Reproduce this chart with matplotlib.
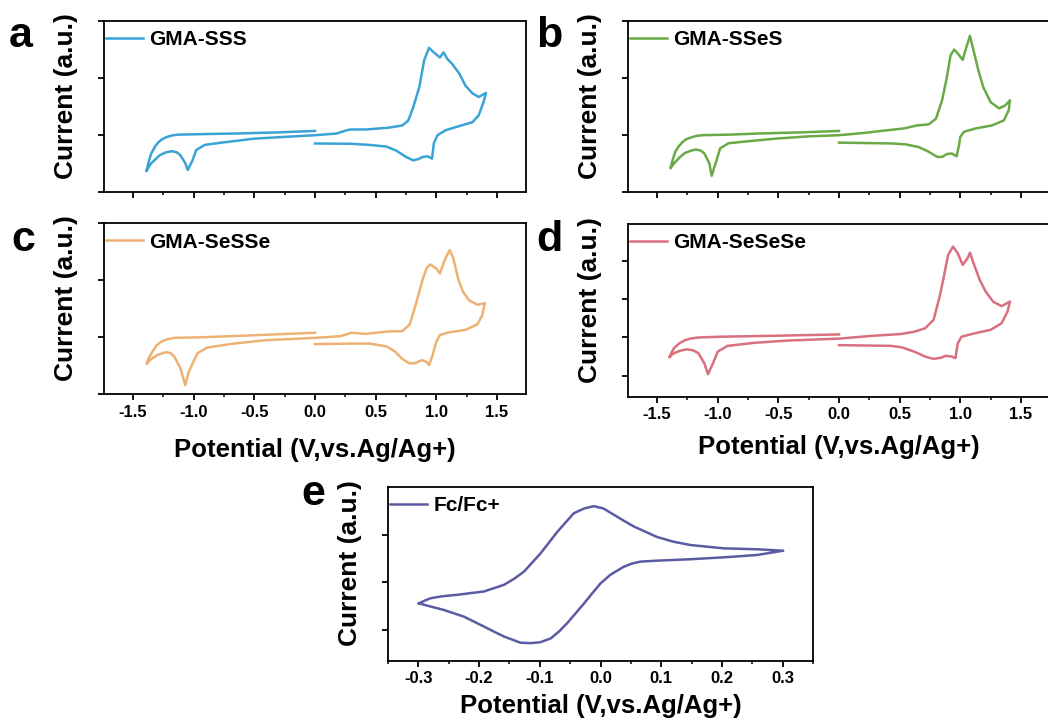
import matplotlib
matplotlib.use("Agg")
import matplotlib.pyplot as plt
from matplotlib.ticker import MultipleLocator, FixedLocator, NullFormatter

plt.rcParams['font.family'] = ['Liberation Sans', 'DejaVu Sans']
plt.rcParams['font.weight'] = 'bold'
plt.rcParams['axes.unicode_minus'] = False

# ---------------- data ----------------
# Panel a: GMA-SSS
a_x = [0.0, -0.30, -0.64, -0.90, -1.13, -1.18, -1.22, -1.26, -1.29, -1.32, -1.35, -1.37, -1.39,
       -1.37, -1.35, -1.31, -1.28, -1.23, -1.18, -1.14, -1.11, -1.07, -1.05, -1.01, -0.98,
       -0.91, -0.77, -0.50, -0.25, 0.0,
       0.18, 0.25, 0.29, 0.42, 0.60, 0.72, 0.77, 0.81, 0.86, 0.90, 0.94, 0.98, 1.03, 1.06, 1.09,
       1.13, 1.19, 1.24, 1.30, 1.35, 1.41,
       1.39, 1.35, 1.30, 1.19, 1.08, 1.01, 0.98, 0.965, 0.93, 0.89, 0.85, 0.81, 0.75, 0.67,
       0.59, 0.45, 0.29, 0.0]
a_y = [1.075, 1.05, 1.03, 1.02, 1.01, 0.995, 0.97, 0.93, 0.88, 0.80, 0.68, 0.55, 0.37,
       0.45, 0.51, 0.59, 0.65, 0.70, 0.72, 0.70, 0.65, 0.51, 0.39, 0.56, 0.74,
       0.83, 0.87, 0.94, 0.97, 1.0,
       1.03, 1.08, 1.10, 1.10, 1.13, 1.17, 1.26, 1.49, 1.84, 2.31, 2.53, 2.45, 2.36, 2.45, 2.34,
       2.25, 2.08, 1.87, 1.73, 1.67, 1.74,
       1.58, 1.35, 1.23, 1.16, 1.09, 1.00, 0.86, 0.59, 0.63, 0.62, 0.58, 0.56, 0.62, 0.73,
       0.80, 0.83, 0.85, 0.855]

# Panel b: GMA-SSeS
b_x = [0.0, -0.30, -0.66, -0.90, -1.13, -1.18, -1.22, -1.26, -1.29, -1.32, -1.35, -1.37, -1.39,
       -1.37, -1.35, -1.31, -1.27, -1.22, -1.18, -1.14, -1.11, -1.07, -1.05, -1.01, -0.98,
       -0.91, -0.72, -0.52, -0.25, 0.0,
       0.21, 0.35, 0.54, 0.64, 0.74, 0.80, 0.85, 0.89, 0.92, 0.95, 0.98, 1.02, 1.05, 1.08, 1.11,
       1.15, 1.19, 1.25, 1.32, 1.37, 1.41,
       1.40, 1.36, 1.26, 1.13, 1.03, 1.00, 0.99, 0.97, 0.93, 0.89, 0.85, 0.81, 0.74, 0.66,
       0.55, 0.44, 0.0]
b_y = [1.075, 1.05, 1.03, 1.01, 1.0, 0.985, 0.96, 0.93, 0.88, 0.81, 0.71, 0.58, 0.42,
       0.48, 0.53, 0.62, 0.69, 0.73, 0.75, 0.73, 0.68, 0.51, 0.29, 0.56, 0.77,
       0.86, 0.90, 0.94, 0.98, 1.0,
       1.04, 1.075, 1.12, 1.17, 1.19, 1.29, 1.61, 2.02, 2.40, 2.50, 2.43, 2.32, 2.54, 2.74, 2.48,
       2.13, 1.84, 1.58, 1.47, 1.52, 1.61,
       1.44, 1.26, 1.17, 1.12, 1.06, 0.97, 0.83, 0.63, 0.68, 0.67, 0.62, 0.62, 0.71, 0.79,
       0.84, 0.855, 0.87]

# Panel c: GMA-SeSSe
c_x = [0.0, -0.45, -0.94, -1.16, -1.22, -1.27, -1.31, -1.34, -1.37, -1.39,
       -1.35, -1.30, -1.23, -1.19, -1.16, -1.11, -1.07, -1.04, -0.97, -0.89, -0.67, -0.40, 0.0,
       0.21, 0.26, 0.30, 0.42, 0.59, 0.72, 0.78, 0.83, 0.89, 0.92, 0.95, 1.00, 1.03, 1.07, 1.11,
       1.14, 1.18, 1.22, 1.27, 1.34, 1.40,
       1.38, 1.34, 1.24, 1.11, 1.03, 1.00, 0.97, 0.94, 0.92, 0.88, 0.83, 0.78, 0.72, 0.66,
       0.59, 0.45, 0.29, 0.0]
c_y = [1.08, 1.04, 1.0, 0.99, 0.965, 0.92, 0.85, 0.75, 0.64, 0.53,
       0.62, 0.69, 0.74, 0.72, 0.66, 0.46, 0.16, 0.40, 0.72, 0.82, 0.89, 0.95, 0.99,
       1.02, 1.05, 1.08, 1.06, 1.10, 1.11, 1.22, 1.57, 2.03, 2.21, 2.28, 2.21, 2.12, 2.36, 2.53,
       2.39, 2.03, 1.80, 1.65, 1.57, 1.60,
       1.39, 1.23, 1.13, 1.09, 1.04, 0.92, 0.69, 0.51, 0.57, 0.60, 0.55, 0.54, 0.62, 0.75,
       0.84, 0.89, 0.89, 0.88]

# Panel d: GMA-SeSeSe
d_x = [0.0, -0.45, -0.97, -1.16, -1.22, -1.27, -1.32, -1.36, -1.38, -1.40,
       -1.37, -1.33, -1.29, -1.25, -1.20, -1.16, -1.11, -1.08, -1.04, -1.00, -0.92, -0.70,
       -0.42, 0.0,
       0.26, 0.51, 0.62, 0.71, 0.78, 0.83, 0.87, 0.90, 0.94, 0.98, 1.02, 1.06, 1.08, 1.11,
       1.16, 1.21, 1.27, 1.34, 1.41,
       1.39, 1.34, 1.25, 1.12, 1.01, 0.98, 0.96, 0.93, 0.88, 0.84, 0.78, 0.71, 0.62,
       0.52, 0.43, 0.0]
d_y = [2.08, 2.05, 2.02, 2.0, 1.975, 1.93, 1.84, 1.72, 1.61, 1.48,
       1.57, 1.63, 1.67, 1.69, 1.66, 1.59, 1.32, 1.04, 1.32, 1.63, 1.78, 1.86,
       1.92, 1.97,
       2.04, 2.09, 2.15, 2.24, 2.46, 3.07, 3.68, 4.16, 4.38, 4.20, 3.90, 4.07, 4.22, 3.94,
       3.51, 3.20, 2.94, 2.82, 2.94,
       2.68, 2.37, 2.20, 2.11, 2.02, 1.85, 1.46, 1.50, 1.52, 1.47, 1.44, 1.50, 1.63,
       1.74, 1.78, 1.80]

# Panel e: Fc/Fc+
e_x = [-0.299, -0.289, -0.279, -0.260, -0.236, -0.192, -0.159, -0.142, -0.126, -0.099, -0.071,
       -0.044, -0.027, -0.011, 0.005, 0.027, 0.040, 0.055, 0.093, 0.120, 0.148, 0.203, 0.258,
       0.301,
       0.258, 0.203, 0.148, 0.093, 0.066, 0.052, 0.038, 0.016, 0.0, -0.013, -0.027, -0.055,
       -0.068, -0.082, -0.099, -0.115, -0.132, -0.159, -0.175, -0.192, -0.225, -0.258,
       -0.285, -0.299]
e_y = [1.56, 1.62, 1.67, 1.71, 1.74, 1.81, 1.95, 2.08, 2.23, 2.61, 3.07,
       3.46, 3.56, 3.61, 3.56, 3.39, 3.29, 3.18, 2.96, 2.86, 2.79, 2.72, 2.70,
       2.67,
       2.58, 2.53, 2.49, 2.46, 2.44, 2.40, 2.33, 2.16, 1.98, 1.78, 1.56, 1.14,
       0.97, 0.82, 0.74, 0.72, 0.73, 0.86, 0.96, 1.07, 1.28, 1.42,
       1.51, 1.56]

labels = ['GMA-SSS', 'GMA-SSeS', 'GMA-SeSSe', 'GMA-SeSeSe', 'Fc/Fc+']
letters = ['a', 'b', 'c', 'd', 'e']
colors = ['#3AA3D6', '#6AAA46', '#EDB273', '#D9707F', '#5B5BA3']
xlabel = 'Potential (V,vs.Ag/Ag+)'
ylabel = 'Current (a.u.)'

# ---------------- figure ----------------
W, H = 1048, 727
fig = plt.figure(figsize=(W / 100, H / 100), dpi=100)


def rect(left, top, right, bottom):
    return [left / W, 1 - bottom / H, (right - left) / W, (bottom - top) / H]


panels = [
    dict(x=a_x, y=a_y, rect=rect(104, 21, 526, 192.3), xlim=(-1.74, 1.74), ylim=(0, 3),
         yt=[0, 1, 2, 3], xmaj=0.5, xmin=0.25, xl=None, letter_pos=(9, 47)),
    dict(x=b_x, y=b_y, rect=rect(628, 21, 1050, 192.3), xlim=(-1.74, 1.74), ylim=(0, 3),
         yt=[0, 1, 2, 3], xmaj=0.5, xmin=0.25, xl=None, letter_pos=(536, 47)),
    dict(x=c_x, y=c_y, rect=rect(104, 223.3, 526, 394.3), xlim=(-1.74, 1.74), ylim=(0, 3),
         yt=[0, 1, 2, 3], xmaj=0.5, xmin=0.25, xl=13, letter_pos=(11, 251)),
    dict(x=d_x, y=d_y, rect=rect(628, 224, 1050, 396.7), xlim=(-1.74, 1.74), ylim=(0.45, 4.97),
         yt=[1, 2, 3, 4], xmaj=0.5, xmin=0.25, xl=9.5, letter_pos=(536, 251)),
    dict(x=e_x, y=e_y, rect=rect(388, 486.7, 813, 660.7), xlim=(-0.35, 0.35), ylim=(0.35, 4.02),
         yt=[1, 2, 3], xmaj=0.1, xmin=0.05, xl=5.5, letter_pos=(301, 505)),
]

for i, p in enumerate(panels):
    ax = fig.add_axes(p['rect'])
    ax.plot(p['x'], p['y'], color=colors[i], lw=1.8, label=labels[i],
            solid_joinstyle='round')
    ax.set_xlim(*p['xlim'])
    ax.set_ylim(*p['ylim'])
    ax.xaxis.set_major_locator(MultipleLocator(p['xmaj']))
    ax.xaxis.set_minor_locator(MultipleLocator(p['xmin']))
    ax.yaxis.set_major_locator(FixedLocator(p['yt']))
    ax.yaxis.set_major_formatter(NullFormatter())
    for s in ax.spines.values():
        s.set_linewidth(1.3)
    ax.tick_params(which='major', direction='out', length=4, width=1.3,
                   labelsize=12, top=False, right=False)
    ax.tick_params(which='minor', direction='out', length=2.5, width=1.1,
                   top=False, right=False)
    if p['xl'] is not None:
        ax.set_xlabel(xlabel, fontsize=18.5, fontweight='bold', labelpad=p['xl'])
        for lab in ax.get_xticklabels():
            lab.set_fontweight('bold')
    else:
        ax.xaxis.set_major_formatter(NullFormatter())
    ax.set_ylabel(ylabel, fontsize=19, fontweight='bold')
    ax.yaxis.set_label_coords(-26 / (p['rect'][2] * W), 0.56)
    ax.legend(loc='upper left', bbox_to_anchor=(0.004, 0.945), borderaxespad=0,
              borderpad=0, frameon=False, handlelength=1.8, handletextpad=0.3,
              prop=dict(size=15, weight='bold'))
    lx, ly = p['letter_pos']
    fig.text(lx / W, 1 - ly / H, letters[i], fontsize=31, fontweight='bold',
             ha='left', va='baseline')

fig.savefig('out.png', dpi=100)
